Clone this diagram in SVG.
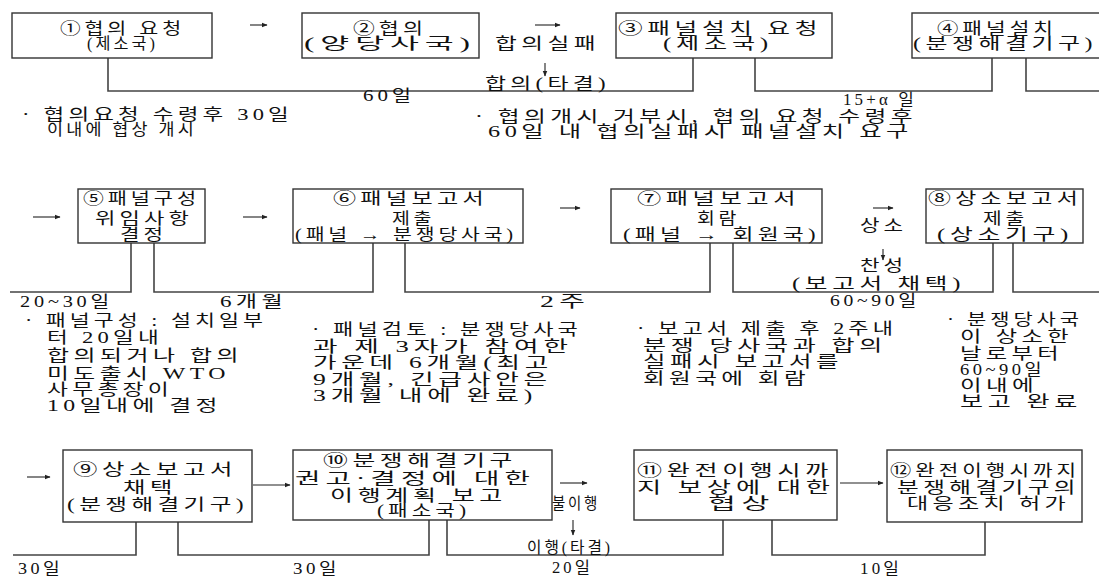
<svg xmlns="http://www.w3.org/2000/svg" width="1099" height="578" viewBox="0 0 1099 578">
<style>
.t{font-family:"Liberation Serif","Noto Sans CJK KR",serif;font-size:16px;letter-spacing:3px;fill:#111}
.b{fill:#fff;stroke:#333;stroke-width:1.4}
.c{fill:none;stroke:#444;stroke-width:1.6}
.a{fill:none;stroke:#222;stroke-width:1.1;marker-end:url(#ah)}
</style>
<defs>
<marker id="ah" viewBox="0 0 10 10" refX="9" refY="5" markerWidth="6" markerHeight="6" markerUnits="userSpaceOnUse" orient="auto">
<path d="M0,1 L10,5 L0,9 Z" fill="#222"/>
</marker>
</defs>
<rect width="1099" height="578" fill="#fff"/>

<g id="connectors">
<polyline class="c" points="108,58 108,91 693,91 693,58"/>
<polyline class="c" points="755,58 755,91 992,91 992,58"/>
<polyline class="c" points="1026,58 1026,91 1099,91"/>
<polyline class="c" points="10,292 131,292 131,243"/>
<polyline class="c" points="154,243 154,292 373,292 373,243"/>
<polyline class="c" points="405,243 405,292 710,292 710,243"/>
<polyline class="c" points="733,243 733,292 993,292 993,243"/>
<polyline class="c" points="1013,243 1013,292 1099,292"/>
<polyline class="c" points="13,555 136,555 136,522"/>
<polyline class="c" points="178,522 178,555 429,555 429,520"/>
<polyline class="c" points="447,520 447,555 723,555 723,520"/>
<polyline class="c" points="772,520 772,555 985,555 985,522"/>
<line class="a" x1="250" y1="25" x2="267" y2="25"/>
<line class="a" x1="535" y1="25" x2="560" y2="25"/>
<line class="a" x1="545" y1="63" x2="545" y2="76"/>
<line class="a" x1="33" y1="217" x2="60" y2="217"/>
<line class="a" x1="243" y1="217" x2="267" y2="217"/>
<line class="a" x1="560" y1="208" x2="580" y2="208"/>
<line class="a" x1="873" y1="208" x2="893" y2="208"/>
<line class="a" x1="883" y1="249" x2="883" y2="260"/>
<line class="a" x1="27" y1="477" x2="50" y2="477"/>
<line class="a" x1="253" y1="485" x2="290" y2="485"/>
<line class="a" x1="560" y1="483" x2="587" y2="483"/>
<line class="a" x1="573" y1="520" x2="573" y2="535"/>
<line class="a" x1="840" y1="483" x2="883" y2="483"/>
</g>

<g id="n1"><rect class="b" x="12" y="13" width="200" height="45"/>
<text class="t" x="60" y="34" textLength="125" lengthAdjust="spacingAndGlyphs">①협의 요청</text>
<text class="t" x="87" y="49" textLength="71" lengthAdjust="spacingAndGlyphs">(제소국)</text></g>
<g id="n2"><rect class="b" x="302" y="13" width="177" height="45"/>
<text class="t" x="353" y="34" textLength="74" lengthAdjust="spacingAndGlyphs">②협의</text>
<text class="t" x="304" y="49" textLength="172" lengthAdjust="spacingAndGlyphs">(양당사국)</text></g>
<g id="n3"><rect class="b" x="616" y="13" width="216" height="45"/>
<text class="t" x="618" y="34" textLength="204" lengthAdjust="spacingAndGlyphs">③패널설치 요청</text>
<text class="t" x="663" y="49" textLength="110" lengthAdjust="spacingAndGlyphs">(제소국)</text></g>
<g id="n4"><rect class="b" x="912" y="13" width="200" height="45"/>
<text class="t" x="937" y="34" textLength="120" lengthAdjust="spacingAndGlyphs">④패널설치</text>
<text class="t" x="913" y="49" textLength="184" lengthAdjust="spacingAndGlyphs">(분쟁해결기구)</text></g>

<g id="labels1">
<text class="t" x="495" y="49" textLength="105" lengthAdjust="spacingAndGlyphs">합의실패</text>
<text class="t" x="485" y="89" textLength="125" lengthAdjust="spacingAndGlyphs">합의(타결)</text>
<text class="t" x="363" y="101" textLength="52" lengthAdjust="spacingAndGlyphs">60일</text>
<text class="t" x="843" y="105" textLength="74" lengthAdjust="spacingAndGlyphs">15+α 일</text>
<text class="t" x="22" y="120" textLength="271" lengthAdjust="spacingAndGlyphs">· 협의요청 수령후 30일</text>
<text class="t" x="47" y="135" textLength="150" lengthAdjust="spacingAndGlyphs">이내에 협상 개시</text>
<text class="t" x="475" y="122" textLength="442" lengthAdjust="spacingAndGlyphs">· 협의개시 거부시, 협의 요청 수령후</text>
<text class="t" x="488" y="137" textLength="425" lengthAdjust="spacingAndGlyphs">60일 내 협의실패시 패널설치 요구</text>
</g>

<g id="n5"><rect class="b" x="78" y="189" width="127" height="54"/>
<text class="t" x="83" y="204" textLength="117" lengthAdjust="spacingAndGlyphs">⑤패널구성</text>
<text class="t" x="95" y="224" textLength="98" lengthAdjust="spacingAndGlyphs">위임사항</text>
<text class="t" x="120" y="240" textLength="47" lengthAdjust="spacingAndGlyphs">결정</text></g>
<g id="n6"><rect class="b" x="293" y="189" width="230" height="54"/>
<text class="t" x="333" y="204" textLength="155" lengthAdjust="spacingAndGlyphs">⑥패널보고서</text>
<text class="t" x="392" y="224" textLength="43" lengthAdjust="spacingAndGlyphs">제출</text>
<text class="t" x="295" y="240" textLength="222" lengthAdjust="spacingAndGlyphs">(패널 → 분쟁당사국)</text></g>
<g id="n7"><rect class="b" x="611" y="189" width="211" height="54"/>
<text class="t" x="637" y="204" textLength="163" lengthAdjust="spacingAndGlyphs">⑦패널보고서</text>
<text class="t" x="697" y="224" textLength="43" lengthAdjust="spacingAndGlyphs">회람</text>
<text class="t" x="623" y="240" textLength="197" lengthAdjust="spacingAndGlyphs">(패널 → 회원국)</text></g>
<g id="n8"><rect class="b" x="926" y="189" width="157" height="54"/>
<text class="t" x="928" y="204" textLength="154" lengthAdjust="spacingAndGlyphs">⑧상소보고서</text>
<text class="t" x="983" y="224" textLength="45" lengthAdjust="spacingAndGlyphs">제출</text>
<text class="t" x="937" y="240" textLength="136" lengthAdjust="spacingAndGlyphs">(상소기구)</text></g>

<g id="labels2">
<text class="t" x="860" y="231" textLength="47" lengthAdjust="spacingAndGlyphs">상소</text>
<text class="t" x="860" y="271" textLength="47" lengthAdjust="spacingAndGlyphs">찬성</text>
<text class="t" x="792" y="289" textLength="173" lengthAdjust="spacingAndGlyphs">(보고서 채택)</text>
<text class="t" x="20" y="307" textLength="93" lengthAdjust="spacingAndGlyphs">20~30일</text>
<text class="t" x="220" y="307" textLength="67" lengthAdjust="spacingAndGlyphs">6개월</text>
<text class="t" x="540" y="307" textLength="50" lengthAdjust="spacingAndGlyphs">2주</text>
<text class="t" x="830" y="306" textLength="90" lengthAdjust="spacingAndGlyphs">60~90일</text>
<text class="t" x="25" y="326" textLength="242" lengthAdjust="spacingAndGlyphs">· 패널구성 : 설치일부</text>
<text class="t" x="47" y="343" textLength="116" lengthAdjust="spacingAndGlyphs">터 20일내</text>
<text class="t" x="47" y="361" textLength="196" lengthAdjust="spacingAndGlyphs">합의되거나 합의</text>
<text class="t" x="47" y="379" textLength="183" lengthAdjust="spacingAndGlyphs">미도출시 WTO</text>
<text class="t" x="47" y="395" textLength="126" lengthAdjust="spacingAndGlyphs">사무총장이</text>
<text class="t" x="47" y="411" textLength="175" lengthAdjust="spacingAndGlyphs">10일내에 결정</text>
<text class="t" x="312" y="335" textLength="270" lengthAdjust="spacingAndGlyphs">· 패널검토 : 분쟁당사국</text>
<text class="t" x="313" y="352" textLength="260" lengthAdjust="spacingAndGlyphs">과 제 3자가 참여한</text>
<text class="t" x="313" y="368" textLength="240" lengthAdjust="spacingAndGlyphs">가운데 6개월(최고</text>
<text class="t" x="313" y="385" textLength="239" lengthAdjust="spacingAndGlyphs">9개월, 긴급사안은</text>
<text class="t" x="313" y="401" textLength="224" lengthAdjust="spacingAndGlyphs">3개월 내에 완료)</text>
<text class="t" x="637" y="334" textLength="260" lengthAdjust="spacingAndGlyphs">· 보고서 제출 후 2주내</text>
<text class="t" x="643" y="351" textLength="244" lengthAdjust="spacingAndGlyphs">분쟁 당사국과 합의</text>
<text class="t" x="643" y="367" textLength="200" lengthAdjust="spacingAndGlyphs">실패시 보고서를</text>
<text class="t" x="643" y="384" textLength="167" lengthAdjust="spacingAndGlyphs">회원국에 회람</text>
<text class="t" x="947" y="325" textLength="136" lengthAdjust="spacingAndGlyphs">· 분쟁당사국</text>
<text class="t" x="960" y="342" textLength="113" lengthAdjust="spacingAndGlyphs">이 상소한</text>
<text class="t" x="960" y="359" textLength="103" lengthAdjust="spacingAndGlyphs">날로부터</text>
<text class="t" x="960" y="375" textLength="85" lengthAdjust="spacingAndGlyphs">60~90일</text>
<text class="t" x="960" y="391" textLength="78" lengthAdjust="spacingAndGlyphs">이내에</text>
<text class="t" x="960" y="407" textLength="122" lengthAdjust="spacingAndGlyphs">보고 완료</text>
</g>

<g id="n9"><rect class="b" x="63" y="450" width="189" height="72"/>
<text class="t" x="73" y="475" textLength="164" lengthAdjust="spacingAndGlyphs">⑨상소보고서</text>
<text class="t" x="123" y="493" textLength="54" lengthAdjust="spacingAndGlyphs">채택</text>
<text class="t" x="67" y="510" textLength="181" lengthAdjust="spacingAndGlyphs">(분쟁해결기구)</text></g>
<g id="n10"><rect class="b" x="293" y="450" width="259" height="70"/>
<text class="t" x="323" y="466" textLength="194" lengthAdjust="spacingAndGlyphs">⑩분쟁해결기구</text>
<text class="t" x="295" y="484" textLength="240" lengthAdjust="spacingAndGlyphs">권고·결정에 대한</text>
<text class="t" x="330" y="501" textLength="177" lengthAdjust="spacingAndGlyphs">이행계획 보고</text>
<text class="t" x="377" y="516" textLength="93" lengthAdjust="spacingAndGlyphs">(패소국)</text></g>
<g id="n11"><rect class="b" x="634" y="450" width="203" height="70"/>
<text class="t" x="637" y="476" textLength="196" lengthAdjust="spacingAndGlyphs">⑪완전이행시까</text>
<text class="t" x="637" y="493" textLength="198" lengthAdjust="spacingAndGlyphs">지 보상에 대한</text>
<text class="t" x="708" y="509" textLength="67" lengthAdjust="spacingAndGlyphs">협상</text></g>
<g id="n12"><rect class="b" x="887" y="450" width="195" height="72"/>
<text class="t" x="890" y="476" textLength="190" lengthAdjust="spacingAndGlyphs">⑫완전이행시까지</text>
<text class="t" x="897" y="493" textLength="183" lengthAdjust="spacingAndGlyphs">분쟁해결기구의</text>
<text class="t" x="907" y="509" textLength="163" lengthAdjust="spacingAndGlyphs">대응조치 허가</text></g>

<g id="labels3">
<text class="t" x="552" y="509" textLength="48" lengthAdjust="spacingAndGlyphs">불이행</text>
<text class="t" x="527" y="553" textLength="86" lengthAdjust="spacingAndGlyphs">이행(타결)</text>
<text class="t" x="552" y="573" textLength="41" lengthAdjust="spacingAndGlyphs">20일</text>
<text class="t" x="18" y="574" textLength="45" lengthAdjust="spacingAndGlyphs">30일</text>
<text class="t" x="293" y="574" textLength="47" lengthAdjust="spacingAndGlyphs">30일</text>
<text class="t" x="860" y="574" textLength="42" lengthAdjust="spacingAndGlyphs">10일</text>
</g>
</svg>
